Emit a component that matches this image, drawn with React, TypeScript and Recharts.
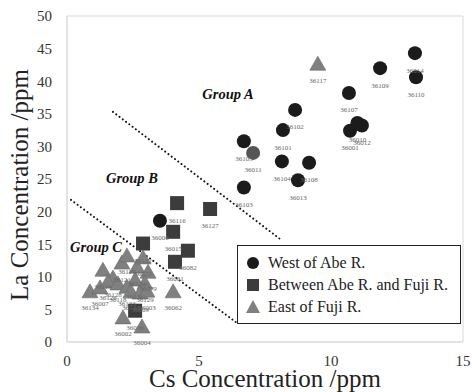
import React from 'react';
import {
  ScatterChart,
  Scatter,
  XAxis,
  YAxis,
  ReferenceLine,
  ReferenceArea,
  ReferenceDot,
  LabelList,
  Legend,
} from 'recharts';

type Sample = { id: string; cs: number; la: number };

// Cs / La concentrations (ppm) per sample, grouped by sampling region
const westSamples: Sample[] = [
  { id: '36014', cs: 13.18, la: 44.3 },
  { id: '36109', cs: 11.86, la: 42.0 },
  { id: '36110', cs: 13.22, la: 40.6 },
  { id: '36107', cs: 10.68, la: 38.2 },
  { id: '36102', cs: 8.64, la: 35.6 },
  { id: '36101', cs: 8.18, la: 32.5 },
  { id: '36001', cs: 10.72, la: 32.4 },
  { id: '36012', cs: 11.17, la: 33.2 },
  { id: '36010', cs: 11.0, la: 33.6 },
  { id: '36105', cs: 6.7, la: 30.8 },
  { id: '36104', cs: 8.14, la: 27.7 },
  { id: '36108', cs: 9.17, la: 27.5 },
  { id: '36013', cs: 8.75, la: 24.8 },
  { id: '36103', cs: 6.7, la: 23.7 },
  { id: '36006', cs: 3.52, la: 18.6 },
];

// sample drawn in a lighter tone on top of the western group
const westLightSamples: Sample[] = [{ id: '36011', cs: 7.05, la: 29.0 }];

const betweenSamples: Sample[] = [
  { id: '36116', cs: 4.17, la: 21.3 },
  { id: '36127', cs: 5.42, la: 20.4 },
  { id: '36015', cs: 4.02, la: 16.9 },
  { id: '36122', cs: 2.88, la: 15.1 },
  { id: '36082', cs: 4.58, la: 14.0 },
  { id: '36081', cs: 4.09, la: 12.3 },
  { id: '36036', cs: 2.58, la: 4.8 },
];

const eastSamples: Sample[] = [
  { id: '36117', cs: 9.5, la: 42.6 },
  { id: '36119', cs: 1.36, la: 11.0 },
  { id: '36121', cs: 2.08, la: 12.1 },
  { id: '36120', cs: 2.27, la: 13.2 },
  { id: '36124', cs: 2.65, la: 11.5 },
  { id: '36072', cs: 2.88, la: 12.9 },
  { id: '36079', cs: 3.07, la: 10.7 },
  { id: '36129', cs: 2.95, la: 9.0 },
  { id: '36134', cs: 0.87, la: 7.7 },
  { id: '36007', cs: 1.25, la: 8.3 },
  { id: '36128', cs: 1.74, la: 9.8 },
  { id: '36126', cs: 1.55, la: 9.2 },
  { id: '36118', cs: 1.93, la: 8.9 },
  { id: '36131', cs: 2.58, la: 9.5 },
  { id: '36133', cs: 2.27, la: 8.4 },
  { id: '36135', cs: 2.42, la: 7.7 },
  { id: '36009', cs: 2.77, la: 7.5 },
  { id: '36003', cs: 3.03, la: 7.8 },
  { id: '36062', cs: 4.02, la: 7.7 },
  { id: '36002', cs: 2.12, la: 3.7 },
  { id: '36004', cs: 2.84, la: 2.3 },
];

const xTicks = [0, 5, 10, 15];
const yTicks = [0, 5, 10, 15, 20, 25, 30, 35, 40, 45, 50];

// dotted group boundaries (cs, la end points)
const boundaryAB = [{ x: 1.74, y: 35.3 }, { x: 8.07, y: 15.8 }];
const boundaryBC = [{ x: 0.15, y: 21.8 }, { x: 6.48, y: 2.8 }];

const groupNames = ['Group A', 'Group B', 'Group C'];
const groupCs = [6.1, 2.46, 1.1];
const groupLa = [38.0, 25.2, 14.6];

const legendNames = ['West of Abe R.', 'Between Abe R. and Fuji R.', 'East of Fuji R.'];

const COLORS = {
  west: '#1b1b1b',
  westLight: '#555555',
  between: '#3c3c3c',
  east: '#808080',
  frame: '#d9d9d9',
  text: '#222222',
  sampleLabel: '#666666',
};

const FONT = '"Liberation Serif", "Times New Roman", serif';

const CircleMark = (props: any) => (
  <circle cx={props.cx} cy={props.cy} r={7} fill={props.fill} />
);

const SquareMark = (props: any) => (
  <rect x={props.cx - 7} y={props.cy - 7} width={14} height={14} fill={props.fill} />
);

const TriangleMark = (props: any) => (
  <polygon
    points={`${props.cx},${props.cy - 8} ${props.cx - 8},${props.cy + 6} ${props.cx + 8},${props.cy + 6}`}
    fill={props.fill}
    stroke="#6a6a6a"
    strokeWidth={0.6}
  />
);

const legendMarks = [
  <circle cx={7} cy={7} r={6} fill={COLORS.west} />,
  <rect x={1} y={1} width={12} height={12} fill={COLORS.between} />,
  <polygon points="7,0 0,13 14,13" fill={COLORS.east} />,
];

const renderLegend = () => (
  <div
    style={{
      border: `1.5px solid ${COLORS.text}`,
      background: '#fff',
      padding: '6px 8px 5px 8px',
      fontFamily: FONT,
      fontSize: 16,
      color: COLORS.text,
      lineHeight: '22px',
      width: 206,
    }}
  >
    {legendNames.map((name, i) => (
      <div key={name} style={{ display: 'flex', alignItems: 'center' }}>
        <svg width={14} height={14} style={{ marginRight: 8 }}>
          {legendMarks[i]}
        </svg>
        <span>{name}</span>
      </div>
    ))}
  </div>
);

const sampleLabelStyle = {
  fontFamily: FONT,
  fontSize: 7,
  fill: COLORS.sampleLabel,
};

export default function App() {
  const tickStyle = { fontFamily: FONT, fontSize: 15, fill: '#333' };
  return (
    <div style={{ position: 'absolute', left: 0, top: 0, width: 472, height: 392, background: '#fff' }}>
      <ScatterChart width={472} height={392} margin={{ top: 16, right: 9, bottom: 0, left: 0 }}>
        <XAxis
          type="number"
          dataKey="cs"
          domain={[0, 15]}
          ticks={xTicks}
          height={50}
          axisLine={{ stroke: COLORS.frame }}
          tickLine={false}
          tickSize={0}
          tickMargin={13}
          tick={tickStyle}
          label={{
            value: 'Cs Concentration  /ppm',
            position: 'insideBottom',
            offset: 5,
            style: { fontFamily: FONT, fontSize: 25, fill: COLORS.text },
          }}
        />
        <YAxis
          type="number"
          dataKey="la"
          domain={[0, 50]}
          ticks={yTicks}
          width={67}
          axisLine={{ stroke: COLORS.frame }}
          tickLine={false}
          tickSize={0}
          tickMargin={15}
          tick={tickStyle}
          label={{
            value: 'La Concentration  /ppm',
            angle: -90,
            position: 'insideLeft',
            offset: 19,
            dy: 6,
            style: { fontFamily: FONT, fontSize: 25, fill: COLORS.text, textAnchor: 'middle' },
          }}
        />
        <ReferenceArea x1={0} x2={15} y1={0} y2={50} fill="none" stroke={COLORS.frame} strokeWidth={1} />
        <ReferenceLine
          segment={boundaryAB}
          stroke="#111"
          strokeWidth={2}
          strokeDasharray="0.1 4"
          strokeLinecap="round"
        />
        <ReferenceLine
          segment={boundaryBC}
          stroke="#111"
          strokeWidth={2}
          strokeDasharray="0.1 4"
          strokeLinecap="round"
        />
        {groupNames.map((name, i) => (
          <ReferenceDot
            key={name}
            x={groupCs[i]}
            y={groupLa[i]}
            r={0}
            stroke="none"
            fill="none"
            label={{
              value: name,
              position: 'center',
              style: {
                fontFamily: FONT,
                fontSize: 14.5,
                fontWeight: 'bold',
                fontStyle: 'italic',
                fill: '#111',
              },
            }}
          />
        ))}
        <Scatter
          name={legendNames[0]}
          data={westSamples}
          fill={COLORS.west}
          shape={CircleMark}
          isAnimationActive={false}
        >
          <LabelList dataKey="id" position="bottom" offset={10} style={sampleLabelStyle} />
        </Scatter>
        <Scatter
          name="36011"
          data={westLightSamples}
          fill={COLORS.westLight}
          shape={CircleMark}
          legendType="none"
          isAnimationActive={false}
        >
          <LabelList dataKey="id" position="bottom" offset={10} style={sampleLabelStyle} />
        </Scatter>
        <Scatter
          name={legendNames[1]}
          data={betweenSamples}
          fill={COLORS.between}
          shape={SquareMark}
          isAnimationActive={false}
        >
          <LabelList dataKey="id" position="bottom" offset={10} style={sampleLabelStyle} />
        </Scatter>
        <Scatter
          name={legendNames[2]}
          data={eastSamples}
          fill={COLORS.east}
          shape={TriangleMark}
          isAnimationActive={false}
        >
          <LabelList dataKey="id" position="bottom" offset={9} style={sampleLabelStyle} />
        </Scatter>
        <Legend
          layout="vertical"
          align="center"
          verticalAlign="middle"
          content={renderLegend}
          wrapperStyle={{ left: 237, top: 245, width: 'auto' }}
        />
      </ScatterChart>
    </div>
  );
}
